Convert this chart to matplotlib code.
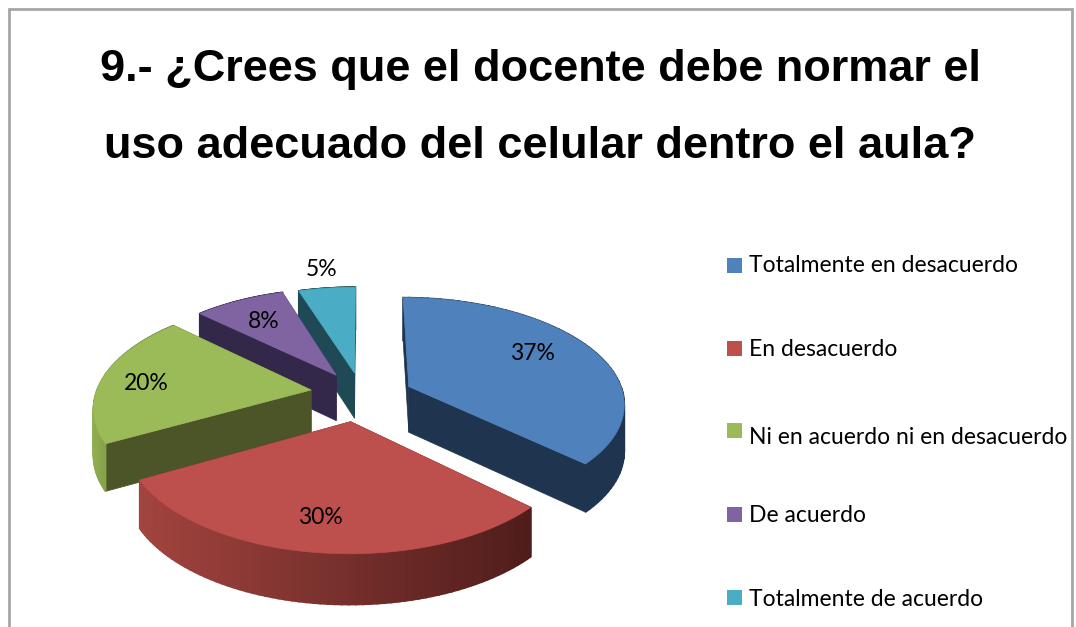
#3D style exploded pie, drawn by hand since matplotlib has no 3D pie
import numpy as np
import matplotlib
matplotlib.use('Agg')
import matplotlib.pyplot as plt
from matplotlib.patches import Polygon, Rectangle

title_lines = ['9.- ¿Crees que el docente debe normar el',
               'uso adecuado del celular dentro el aula?']
categories = ['Totalmente en desacuerdo', 'En desacuerdo', 'Ni en acuerdo ni en desacuerdo',
              'De acuerdo', 'Totalmente de acuerdo']
percents = [37, 30, 20, 8, 5]

top_colors = ['#4f81bd', '#bd4f4c', '#9bbb59', '#8064a2', '#4bacc6']
side_colors = ['#1f344f', '#4f1d1b', '#4b5527', '#33274a', '#1f4a55']
#outer wall colours, left to right on screen
wall_left = ['#1f344f', '#a3443f', '#8fae50', '#33274a', '#1f4a55']
wall_right = ['#1f344f', '#4f1d1b', '#4b5527', '#33274a', '#1f4a55']

#pie geometry in pixels
cx, cy = 358, 395
rx, ry = 215, 104.6
persp = 0.147
explode = 0.23
depth = 46
nudge_x = [6, -1, 2, 4, 4]  #the exploded slices are not quite on their bisector
nudge_y = [1, 2, -2, 0, 1]


def project(x, y, drop=0.0):
    s = 1 / (1 + persp * y)
    return cx + rx * x * s, cy - ry * y * s + drop * s ** 0.5


def to_rgb(c):
    return np.array(matplotlib.colors.to_rgb(c))


fig = plt.figure(figsize=(10.76, 6.27), dpi=100)
ax = fig.add_axes([0, 0, 1, 1])
ax.set_xlim(0, 1076)
ax.set_ylim(627, 0)
ax.axis('off')

#frame, open at the bottom because the source image is cropped there
ax.plot([9, 9, 1072, 1072], [627, 9, 9, 627], color='#a6a6a6', lw=2, solid_joinstyle='miter')

for k, line in enumerate(title_lines):
    ax.text(540, 69.5 + 77 * k, line, ha='center', va='center', fontsize=32.5,
            fontweight='bold', family='Liberation Sans', color='black')

fractions = np.array(percents) / sum(percents)
ends = np.cumsum(fractions) * 2 * np.pi
starts = ends - fractions * 2 * np.pi

#draw from the back of the pie to the front
mids = (starts + ends) / 2
order = np.argsort(-np.cos(mids))
for i in order:
    ox = explode * np.sin(mids[i])
    oy = explode * np.cos(mids[i])
    t = np.linspace(starts[i], ends[i], 70)
    xs = ox + np.sin(t)
    ys = oy + np.cos(t)
    shift = np.array([nudge_x[i], nudge_y[i]])

    def pts(pairs):
        return [np.array(p) + shift for p in pairs]

    #the two cut faces
    for a in (starts[i], ends[i]):
        ex, ey = ox + np.sin(a), oy + np.cos(a)
        face = pts([project(ox, oy), project(ex, ey), project(ex, ey, depth), project(ox, oy, depth)])
        ax.add_patch(Polygon(face, closed=True, fc=side_colors[i], ec=side_colors[i], lw=0.5))

    #outer wall as thin strips so it can carry a gradient
    px = np.array([project(a, b)[0] for a, b in zip(xs, ys)])
    for j in range(len(t) - 1):
        f = (px[j] - px.min()) / max(px.max() - px.min(), 1)
        col = to_rgb(wall_left[i]) * (1 - f) + to_rgb(wall_right[i]) * f
        strip = pts([project(xs[j], ys[j]), project(xs[j + 1], ys[j + 1]),
                     project(xs[j + 1], ys[j + 1], depth), project(xs[j], ys[j], depth)])
        ax.add_patch(Polygon(strip, closed=True, fc=col, ec=col, lw=1.2))

    top = pts([project(ox, oy)] + [project(a, b) for a, b in zip(xs, ys)])
    ax.add_patch(Polygon(top, closed=True, fc=top_colors[i], ec=top_colors[i], lw=0.5))

#data labels
label_x = [532, 320, 146, 264, 322]
label_y = [353, 518, 384, 322, 270]
for p, x, y in zip(percents, label_x, label_y):
    ax.text(x, y, '%d%%' % p, ha='center', va='center', fontsize=16.5, family='Lato', color='black')

#legend
swatch_y = [265, 348, 430, 514, 597]
legend_text_y = [266, 349, 437, 516, 599]
for name, y, ty, col in zip(categories, swatch_y, legend_text_y, top_colors):
    ax.add_patch(Rectangle((727, y - 7.5), 15, 15, fc=col, ec='none'))
    ax.text(749, ty, name, ha='left', va='center', fontsize=16.5, family='Lato', color='black')

fig.savefig('out.png', dpi=100)
